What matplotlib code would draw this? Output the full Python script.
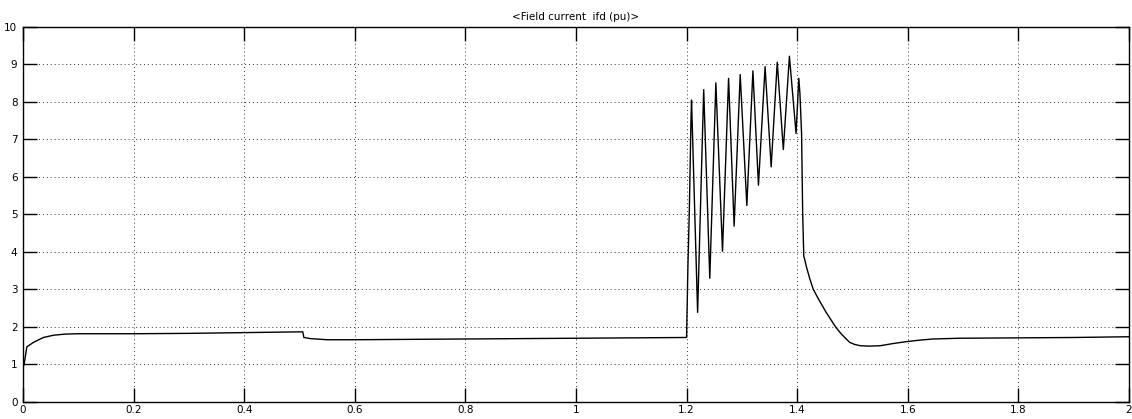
import numpy as np
import matplotlib
matplotlib.use("Agg")
import matplotlib.pyplot as plt

# field current trace, time in s, ifd in pu
t_start = [0.0, 0.002, 0.007, 0.019, 0.037, 0.055, 0.076, 0.1, 0.2, 0.3, 0.4, 0.5, 0.506]
i_start = [0.93, 1.0, 1.47, 1.59, 1.72, 1.78, 1.81, 1.82, 1.82, 1.83, 1.85, 1.87, 1.87]

t_mid = [0.508, 0.52, 0.55, 0.6, 0.8, 1.0, 1.199]
i_mid = [1.72, 1.69, 1.66, 1.66, 1.68, 1.70, 1.72]

# fault period: rise then oscillation
t_fault = [1.2, 1.2025, 1.205, 1.208, 1.209,
           1.220, 1.231, 1.242, 1.253, 1.265, 1.276, 1.286, 1.297, 1.309,
           1.320, 1.330, 1.342, 1.353, 1.364, 1.375, 1.386, 1.398, 1.403,
           1.405, 1.408, 1.410, 1.412]
i_fault = [1.72, 3.64, 5.1, 7.53, 8.05,
           2.39, 8.33, 3.30, 8.51, 4.02, 8.63, 4.69, 8.73, 5.24,
           8.83, 5.78, 8.94, 6.27, 9.06, 6.73, 9.22, 7.16, 8.63,
           8.23, 7.16, 5.02, 3.88]

# recovery after clearing
t_rec = [1.413, 1.417, 1.423, 1.429, 1.438, 1.452, 1.459, 1.470, 1.480, 1.495,
         1.503, 1.514, 1.530, 1.550, 1.574, 1.598, 1.622,
         1.646, 1.694, 1.8, 1.9, 2.0]
i_rec = [3.84, 3.59, 3.28, 3.01, 2.76, 2.40, 2.24, 1.99, 1.81, 1.59,
         1.54, 1.50, 1.49, 1.50, 1.56, 1.61, 1.65,
         1.68, 1.70, 1.71, 1.72, 1.74]

t = np.array(t_start + t_mid + t_fault + t_rec)
ifd = np.array(i_start + i_mid + i_fault + i_rec)

xticks = [0, 0.2, 0.4, 0.6, 0.8, 1, 1.2, 1.4, 1.6, 1.8, 2]
xlabels = ["0", "0.2", "0.4", "0.6", "0.8", "1", "1.2", "1.4", "1.6", "1.8", "2"]
yticks = list(range(0, 11))

fig = plt.figure(figsize=(11.32, 4.19), dpi=100)
ax = fig.add_axes([0.0203, 0.0406, 0.977, 0.895])

ax.plot(t, ifd, color="black", linewidth=1.0)

ax.set_xlim(0, 2)
ax.set_ylim(0, 10)
ax.set_xticks(xticks)
ax.set_xticklabels(xlabels)
ax.set_yticks(yticks)

ax.grid(True, color="#333333", linestyle=(0, (1, 3)), linewidth=0.7)
ax.tick_params(direction="in", length=10, width=1.0, top=True, right=True,
               labelsize=7.5)
ax.tick_params(axis="x", pad=2)
ax.tick_params(axis="y", pad=4)
for s in ax.spines.values():
    s.set_linewidth(1.0)
    s.set_color("black")

ax.set_title("<Field current  ifd (pu)>", fontsize=7.5, pad=5)

fig.savefig("out.png", dpi=100, facecolor="white")
